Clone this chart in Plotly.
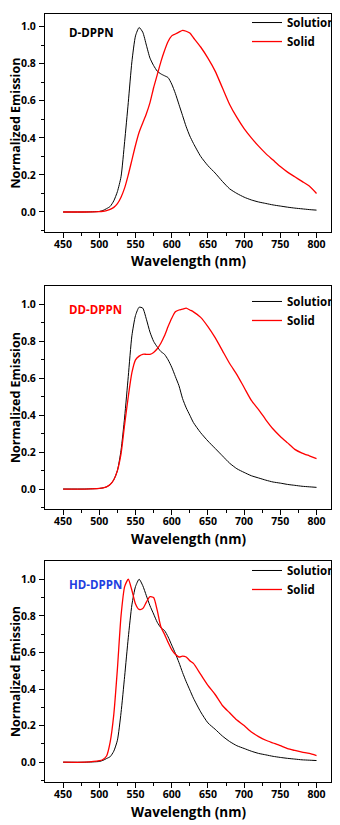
import plotly.graph_objects as go

# wavelength grid (nm) shared by all spectra
wl = [450, 480, 500, 505, 510, 515, 520, 525, 530, 535, 540, 545, 550, 555, 560,
      565, 570, 575, 580, 585, 590, 595, 600, 605, 610, 615, 620, 625, 630, 640,
      650, 660, 670, 680, 690, 700, 710, 720, 730, 740, 750, 760, 770, 780, 790, 800]

# D-DPPN
sol1 = [0, 0, 0.003, 0.008, 0.018, 0.03, 0.06, 0.11, 0.19, 0.38, 0.59, 0.81, 0.95, 0.995, 0.97,
        0.90, 0.83, 0.79, 0.76, 0.745, 0.735, 0.725, 0.69, 0.64, 0.58, 0.52, 0.46, 0.41, 0.37, 0.30,
        0.25, 0.21, 0.165, 0.125, 0.10, 0.08, 0.065, 0.054, 0.046, 0.038, 0.032, 0.026, 0.021, 0.017, 0.013, 0.01]
sld1 = [0, 0, 0.002, 0.004, 0.008, 0.014, 0.025, 0.045, 0.08, 0.13, 0.20, 0.28, 0.36, 0.43, 0.48,
        0.53, 0.59, 0.67, 0.74, 0.81, 0.87, 0.92, 0.95, 0.96, 0.97, 0.98, 0.975, 0.965, 0.94, 0.89,
        0.83, 0.76, 0.67, 0.58, 0.51, 0.45, 0.40, 0.355, 0.315, 0.28, 0.245, 0.215, 0.19, 0.165, 0.14, 0.10]

# DD-DPPN
sol2 = [0, 0, 0.003, 0.006, 0.012, 0.024, 0.05, 0.10, 0.21, 0.39, 0.61, 0.83, 0.94, 0.985, 0.98,
        0.92, 0.85, 0.80, 0.77, 0.745, 0.73, 0.70, 0.66, 0.61, 0.56, 0.49, 0.44, 0.40, 0.36, 0.305,
        0.26, 0.22, 0.18, 0.14, 0.11, 0.09, 0.072, 0.06, 0.048, 0.038, 0.032, 0.025, 0.02, 0.015, 0.012, 0.009]
sld2 = [0, 0, 0.003, 0.006, 0.012, 0.024, 0.05, 0.10, 0.19, 0.35, 0.50, 0.63, 0.70, 0.72, 0.73,
        0.73, 0.73, 0.74, 0.76, 0.79, 0.83, 0.88, 0.925, 0.96, 0.97, 0.975, 0.98, 0.97, 0.96, 0.93,
        0.88, 0.82, 0.75, 0.68, 0.62, 0.55, 0.48, 0.43, 0.375, 0.325, 0.285, 0.25, 0.215, 0.195, 0.18, 0.165]

# HD-DPPN
sol3 = [0, 0, 0.004, 0.01, 0.02, 0.03, 0.06, 0.12, 0.27, 0.47, 0.68, 0.86, 0.96, 1.0, 0.965,
        0.91, 0.855, 0.81, 0.765, 0.735, 0.72, 0.685, 0.64, 0.595, 0.545, 0.49, 0.44, 0.395, 0.35, 0.275,
        0.215, 0.18, 0.143, 0.113, 0.09, 0.075, 0.06, 0.048, 0.04, 0.032, 0.026, 0.021, 0.017, 0.013, 0.011, 0.009]
sld3 = [0, 0, 0.008, 0.015, 0.034, 0.11, 0.26, 0.51, 0.80, 0.96, 1.0, 0.94, 0.865, 0.835, 0.84,
        0.875, 0.905, 0.90, 0.83, 0.74, 0.70, 0.655, 0.615, 0.59, 0.575, 0.58, 0.575, 0.555, 0.54, 0.48,
        0.42, 0.37, 0.31, 0.27, 0.23, 0.20, 0.165, 0.14, 0.12, 0.105, 0.09, 0.074, 0.064, 0.055, 0.048, 0.036]

panels = [
    ("D-DPPN", "black", sol1, sld1),
    ("DD-DPPN", "#ff0000", sol2, sld2),
    ("HD-DPPN", "#1f3fe0", sol3, sld3),
]

FONT = "Open Sans, sans-serif"
# page body has an 8px margin, so the figure is 8px smaller than the window
W, H = 332, 817
# plot area rows in figure pixels (top, bottom) and y range top
rows = [(0, 220, 1.068), (274, 499, 1.1), (551, 774, 1.1)]
leg_top = [-6, 275, 546]

fig = go.Figure()
layout = dict(
    width=W, height=H,
    margin=dict(l=37, r=5, t=0, b=0),
    plot_bgcolor="white", paper_bgcolor="white",
    font=dict(family=FONT, size=12, color="black", weight="bold"),
    showlegend=True,
    annotations=[],
)

for i, (name, col, sol, sld) in enumerate(panels):
    n = "" if i == 0 else str(i + 1)
    lg = "legend" + n
    fig.add_trace(go.Scatter(x=wl, y=sol, mode="lines", name="Solution",
                             line=dict(color="black", width=1, shape="spline", smoothing=0.6),
                             xaxis="x" + n, yaxis="y" + n, legend=lg))
    fig.add_trace(go.Scatter(x=wl, y=sld, mode="lines", name="Solid",
                             line=dict(color="#ff0000", width=1.3, shape="spline", smoothing=0.6),
                             xaxis="x" + n, yaxis="y" + n, legend=lg))
    top, bot, ytop = rows[i]
    layout["xaxis" + n] = dict(
        domain=[0, 1], anchor="y" + n, range=[425, 820],
        tickvals=[450, 500, 550, 600, 650, 700, 750, 800],
        ticks="outside", ticklen=5, tickwidth=1, tickcolor="black",
        minor=dict(tickvals=[475, 525, 575, 625, 675, 725, 775], ticks="outside", ticklen=3, tickcolor="black"),
        showline=True, linecolor="black", linewidth=1, mirror=True,
        showgrid=False, zeroline=False,
        tickfont=dict(size=10.5), ticklabelstandoff=-3,
        automargin=False,
    )
    layout["yaxis" + n] = dict(
        domain=[1 - bot / H, 1 - top / H], anchor="x" + n, range=[-0.11, ytop],
        tickvals=[0, 0.2, 0.4, 0.6, 0.8, 1.0], tickformat=".1f",
        ticks="outside", ticklen=5, tickwidth=1, tickcolor="black",
        minor=dict(tickvals=[-0.1, 0.1, 0.3, 0.5, 0.7, 0.9], ticks="outside", ticklen=3, tickcolor="black"),
        showline=True, linecolor="black", linewidth=1, mirror=True,
        showgrid=False, zeroline=False,
        tickfont=dict(size=10.5), ticklabelstandoff=1,
        automargin=False,
    )
    layout[lg] = dict(
        x=(250 - 45) / 290, y=1 - leg_top[i] / H, xanchor="left", yanchor="top",
        bgcolor="rgba(0,0,0,0)", font=dict(size=11.5), tracegroupgap=0, itemwidth=30,
    )
    # axis titles
    layout["annotations"].append(dict(
        text="Wavelength (nm)", x=0.5, y=-30 / (bot - top + 6 * (i == 0)),
        xref="x" + n + " domain", yref="y" + n + " domain",
        xanchor="center", yanchor="middle", showarrow=False, font=dict(size=13.5),
    ))
    layout["annotations"].append(dict(
        text="Normalized Emission", x=-30 / 290, y=0.5,
        xref="x" + n + " domain", yref="y" + n + " domain", textangle=-90,
        xanchor="center", yanchor="middle", showarrow=False, font=dict(size=12.5),
    ))
    # sample label
    layout["annotations"].append(dict(
        text=name, x=456, y=0.97, xref="x" + n, yref="y" + n,
        xanchor="left", yanchor="middle", showarrow=False,
        font=dict(size=11.5, color=col),
    ))

fig.update_layout(**layout)
fig.write_html("out.html")
